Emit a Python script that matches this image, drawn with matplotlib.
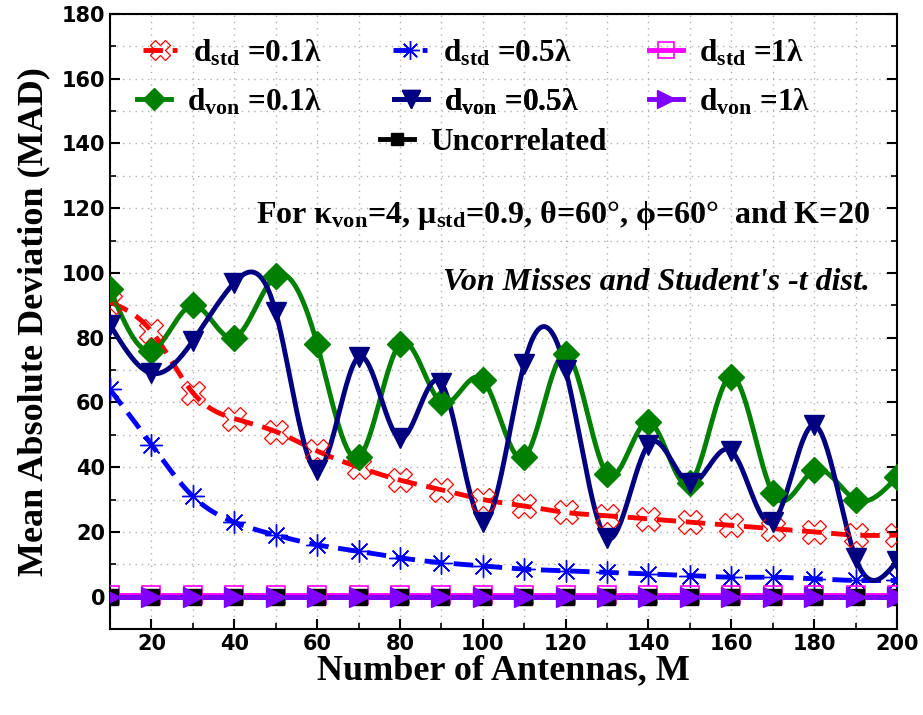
import numpy as np
import matplotlib
matplotlib.use("Agg")
import matplotlib.pyplot as plt
from matplotlib.lines import Line2D
from matplotlib.ticker import MultipleLocator

plt.rcParams['mathtext.fontset'] = 'custom'
plt.rcParams['mathtext.rm'] = 'Liberation Serif:bold'
plt.rcParams['mathtext.bf'] = 'Liberation Serif:bold'
plt.rcParams['mathtext.it'] = 'Liberation Serif:bold:italic'

# ---------------- data ----------------
antennas = [10, 20, 30, 40, 50, 60, 70, 80, 90, 100,
            110, 120, 130, 140, 150, 160, 170, 180, 190, 200]
std_01 = [91, 82, 63, 55, 51, 45, 40, 36, 33, 30,
          28, 26, 25, 24, 23, 22, 21, 20, 19, 19]
std_05 = [64, 47, 31, 23, 19, 16, 14, 12, 10.5, 9.5,
          8.5, 8, 7.5, 7, 6.5, 6, 6, 5.5, 5, 5]
std_1 = [0.5] * 20
von_01 = [95, 76, 90, 80, 99, 78, 43, 78, 60, 67,
          43, 75, 38, 54, 35, 68, 32, 39, 30, 37]
von_05 = [84, 69, 79, 97, 88, 39, 74, 49, 66, 23,
          72, 70, 18, 47, 35, 45, 23, 53, 12, 11]
von_1 = [0.0] * 20
uncorrelated = [0.0] * 20

labels = [r'd$_{\mathrm{std}}$ =0.1λ', r'd$_{\mathrm{std}}$ =0.5λ', r'd$_{\mathrm{std}}$ =1λ',
          r'd$_{\mathrm{von}}$ =0.1λ', r'd$_{\mathrm{von}}$ =0.5λ', r'd$_{\mathrm{von}}$ =1λ',
          'Uncorrelated']


def spline(x, y, n=600):
    x = np.asarray(x, float)
    y = np.asarray(y, float)
    N = len(x)
    h = np.diff(x)
    A = np.zeros((N, N))
    b = np.zeros(N)
    A[0, 0] = 1
    A[-1, -1] = 1
    for i in range(1, N - 1):
        A[i, i - 1] = h[i - 1]
        A[i, i] = 2 * (h[i - 1] + h[i])
        A[i, i + 1] = h[i]
        b[i] = 3 * ((y[i + 1] - y[i]) / h[i] - (y[i] - y[i - 1]) / h[i - 1])
    c = np.linalg.solve(A, b)
    bb = (y[1:] - y[:-1]) / h - h * (2 * c[:-1] + c[1:]) / 3
    d = (c[1:] - c[:-1]) / (3 * h)
    xs = np.linspace(x[0], x[-1], n)
    idx = np.clip(np.searchsorted(x, xs) - 1, 0, N - 2)
    t = xs - x[idx]
    ys = y[idx] + bb[idx] * t + c[idx] * t ** 2 + d[idx] * t ** 3
    return xs, ys


W, H = 923, 715
fig = plt.figure(figsize=(W / 100, H / 100), dpi=100)
AX_L, AX_R, AX_T, AX_B = 110, 897, 14, 629
ax = fig.add_axes([AX_L / W, 1 - AX_B / H, (AX_R - AX_L) / W, (AX_B - AX_T) / H])

lw = 3.5
series = [
    (std_01, labels[0], '#FF0000', (0, (4, 2)), dict(marker='X', ms=17, mfc='none', mec='#FF0000', mew=0.9), (143, 53)),
    (std_05, labels[1], '#0000FF', (0, (4, 2)), dict(marker=(8, 2, 0), ms=16, mec='#0000FF', mew=1.0), (393, 53)),
    (std_1, labels[2], '#FF00FF', '-', dict(marker='s', ms=13, mfc='none', mec='#FF00FF', mew=1.2), (649, 53)),
    (uncorrelated, labels[6], '#000000', '-', dict(marker='s', ms=11, mfc='#000000', mec='#000000'), (380, 142)),
    (von_1, labels[5], '#8000FF', '-', dict(marker='>', ms=15, mfc='#8000FF', mec='#8000FF'), (649, 102)),
    (von_01, labels[3], '#008000', '-', dict(marker='D', ms=13, mfc='#008000', mec='#008000'), (137, 102)),
    (von_05, labels[4], '#000080', '-', dict(marker='v', ms=15, mfc='#000080', mec='#000080'), (394, 102)),
]
for vals, lab, col, ls, mk, (px, py) in series:
    xs, ys = spline(antennas, vals)
    ax.plot(xs, ys, color=col, lw=lw, ls=ls, zorder=3)
    ax.plot(antennas, vals, ls='none', zorder=4, **mk)
    mk_leg = dict(mk)
    mk_leg['ms'] = mk['ms'] * 0.85
    h = Line2D([], [], color=col, lw=lw, ls=ls, **mk_leg)
    leg = ax.legend([h], [lab], loc='center left',
                    bbox_to_anchor=((px - AX_L) / (AX_R - AX_L), (AX_B - py) / (AX_B - AX_T)),
                    frameon=False, handlelength=1.1, handletextpad=0.5,
                    borderpad=0, borderaxespad=0,
                    prop={'family': 'Liberation Serif', 'weight': 'bold', 'size': 22.5})
    ax.add_artist(leg)

ax.text((870 - AX_L) / (AX_R - AX_L), (AX_B - 215) / (AX_B - AX_T),
        r'For κ$_{\mathrm{von}}$=4, μ$_{\mathrm{std}}$=0.9, θ=60°, ϕ=60°  and K=20',
        transform=ax.transAxes, ha='right', va='center',
        fontfamily='Liberation Serif', fontweight='bold', fontsize=23)
ax.text((870 - AX_L) / (AX_R - AX_L), (AX_B - 282) / (AX_B - AX_T),
        "Von Misses and Student's -t dist.", transform=ax.transAxes,
        ha='right', va='center', fontfamily='Liberation Serif', fontweight='bold',
        fontstyle='italic', fontsize=23)

ax.set_xlim(10, 200)
ax.set_ylim(-10, 180)
ax.xaxis.set_major_locator(MultipleLocator(20))
ax.xaxis.set_minor_locator(MultipleLocator(10))
ax.yaxis.set_major_locator(MultipleLocator(20))
ax.yaxis.set_minor_locator(MultipleLocator(10))
ax.grid(True, which='both', ls=(0, (1, 3.5)), color='#b0b0b0', lw=1.0)
ax.set_axisbelow(True)
ax.tick_params(axis='both', which='major', direction='out', length=7, width=1.5)
ax.tick_params(axis='both', which='minor', direction='out', length=4, width=1.2)
ax.tick_params(right=True, which='both', direction='in')
for s in ax.spines.values():
    s.set_linewidth(1.5)
for t in ax.get_xticklabels() + ax.get_yticklabels():
    t.set_fontfamily('DejaVu Sans')
    t.set_fontweight('bold')
    t.set_fontsize(15)

ax.set_xlabel('Number of Antennas, M', fontfamily='Liberation Serif', fontweight='bold',
              fontsize=26, labelpad=0.5)
ax.set_ylabel('Mean Absolute Deviation (MAD)', fontfamily='Liberation Serif',
              fontweight='bold', fontsize=26, labelpad=8)

fig.savefig('out.png', dpi=100)
